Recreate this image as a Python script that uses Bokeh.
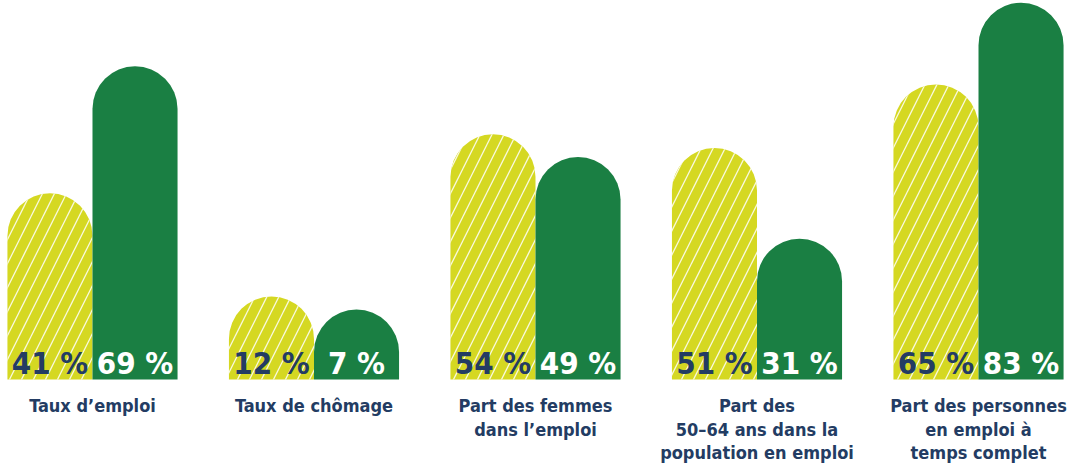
from bokeh.plotting import figure
from bokeh.models import Range1d, ColumnDataSource
from bokeh.core.properties import value
from bokeh.embed import file_html
from bokeh.resources import INLINE

# ---- data ----
categories = [
    "Taux d\u2019emploi",
    "Taux de ch\u00f4mage",
    "Part des femmes\ndans l\u2019emploi",
    "Part des\n50\u201364 ans dans la\npopulation en emploi",
    "Part des personnes\nen emploi \u00e0\ntemps complet",
]
light_values = [41, 12, 54, 51, 65]   # hatched series
dark_values = [69, 7, 49, 31, 83]     # solid series
# drawn bar heights (%) (small bars are drawn taller)
light_heights = [41, 18.3, 54, 51, 65]
dark_heights = [69, 15.4, 49, 31, 83]
light_labels = ["41 %", "12 %", "54 %", "51 %", "65 %"]
dark_labels = ["69 %", "7 %", "49 %", "31 %", "83 %"]

# ---- styles ----
LIGHT = "#d5d822"
DARK = "#1a7f43"
NAVY = "#233c63"
FONT = "DejaVu Sans Condensed"
BAR_W = 0.384
idx = list(range(len(categories)))
xl = [i - BAR_W / 2 for i in idx]
xd = [i + BAR_W / 2 for i in idx]

p = figure(width=1068, height=476, output_backend="svg", toolbar_location=None,
           x_range=Range1d(-0.4153, 4.4063), y_range=Range1d(-21.37, 83.48),
           min_border=0, outline_line_color=None)
p.axis.visible = False
p.grid.visible = False
p.background_fill_color = "white"
p.border_fill_color = "white"

src_l = ColumnDataSource(dict(x=xl, top=light_heights, lab=light_labels))
src_d = ColumnDataSource(dict(x=xd, top=dark_heights, lab=dark_labels))

p.vbar(x="x", top="top", bottom=0, width=BAR_W, source=src_l,
       fill_color=LIGHT, line_color=None,
       hatch_pattern="/", hatch_color="white", hatch_alpha=0.85,
       hatch_scale=24, hatch_weight=1.3,
       border_radius=(43, 43, 0, 0))
p.vbar(x="x", top="top", bottom=0, width=BAR_W, source=src_d,
       fill_color=DARK, line_color=None,
       border_radius=(43, 43, 0, 0))

p.text(x="x", y=0, text="lab", source=src_l, text_align="center",
       text_baseline="alphabetic", y_offset=-16,
       text_font=value(FONT), text_font_style="bold",
       text_font_size="31px", text_color=NAVY)
p.text(x="x", y=0, text="lab", source=src_d, text_align="center",
       text_baseline="alphabetic", y_offset=-16,
       text_font=value(FONT), text_font_style="bold",
       text_font_size="31px", text_color="white")

src_c = ColumnDataSource(dict(x=idx, lab=categories))
p.text(x="x", y=0, text="lab", source=src_c, text_align="center",
       text_baseline="top", y_offset=16, text_line_height=1.1,
       text_font=value(FONT), text_font_style="bold",
       text_font_size="18px", text_color=NAVY)

open("out.html", "w").write(file_html(p, INLINE))
